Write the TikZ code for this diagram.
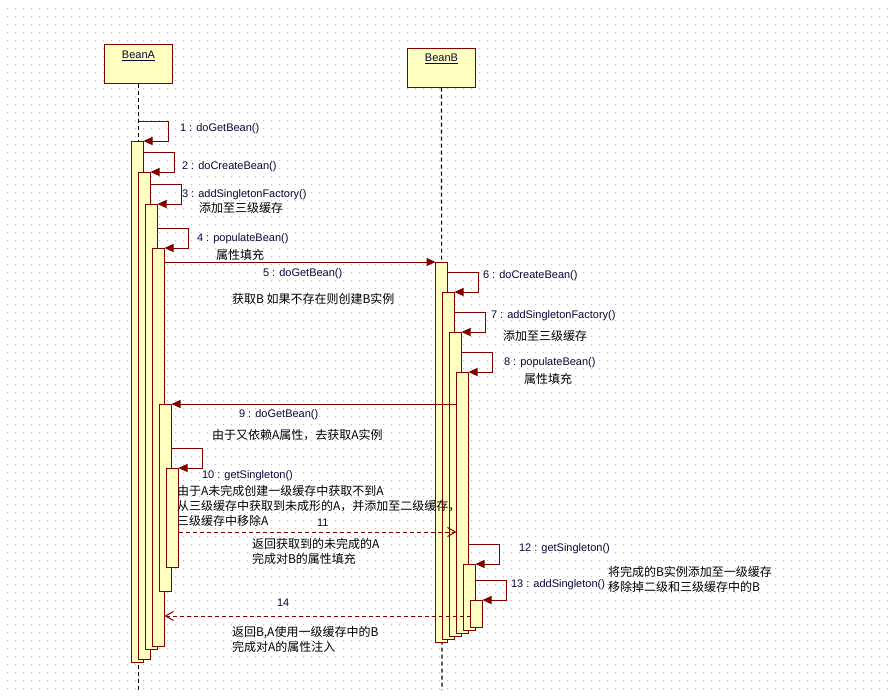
\documentclass[tikz,border=0pt]{standalone}
\usepackage{fontspec}
\setmainfont{Liberation Sans}
\newfontfamily\cjk{Noto Sans CJK SC}
\usetikzlibrary{arrows.meta}

\definecolor{umlred}{RGB}{128,0,0}
\definecolor{barfill}{RGB}{255,255,192}
\definecolor{labelblue}{RGB}{8,8,56}
\definecolor{griddot}{RGB}{188,188,188}

\begin{document}
\begin{tikzpicture}[x=1pt,y=-1pt,
  every node/.style={inner sep=0pt, outer sep=0pt},
  objbox/.style={draw=umlred, fill=barfill, line width=1.2pt,
    minimum width=68pt, minimum height=39pt, anchor=north west},
  objname/.style={text=labelblue, font=\fontsize{11}{13}\selectfont},
  actbar/.style={draw=umlred, fill=barfill, line width=1pt,
    minimum width=12pt, anchor=north west},
  lifeline/.style={draw=black, line width=1.2pt, dash pattern=on 4pt off 3pt},
  callmsg/.style={draw=umlred, line width=1pt,
    -{Triangle[length=9pt,width=8pt]}},
  retmsg/.style={draw=umlred, line width=1pt, dash pattern=on 4pt off 3pt,
    -{Straight Barb[length=8pt,width=9pt]}},
  mlabel/.style={anchor=west, text=labelblue, font=\fontsize{11}{13}\selectfont},
  note/.style={anchor=west, text=black, align=left,
    font=\cjk\fontsize{12}{15}\selectfont},
]
\useasboundingbox (0,0) rectangle (895,697);
\fill[white] (0,0) rectangle (895,697);

% dotted drawing grid, one path per row
\foreach \j in {0,...,85} {
  \fill[griddot] \foreach \i in {0,...,110} {(7+8*\i,8+8*\j) rectangle ++(1,1)};
}

% objects
\node[objbox] (boxA) at (104.5,44.5) {};
\node[objname] (nameA) at (138.5,56) {\underline{BeanA}};
\node[objbox] (boxB) at (407.5,48.5) {};
\node[objname] (nameB) at (441.5,59) {\underline{BeanB}};

% lifelines
\coordinate (endA) at (138.5,690);
\coordinate (endB) at (442,690);
\draw[lifeline] (boxA.south) -- (endA);
\draw[lifeline] (boxB.south) -- (endB);

% activations of BeanA
\node[actbar, minimum height=521pt] (a1) at (131.5,141) {};
\node[actbar, minimum height=487pt] (a2) at (138.5,172) {};
\node[actbar, minimum height=445pt] (a3) at (145.5,204) {};
\node[actbar, minimum height=398pt] (a4) at (152.5,248) {};
\node[actbar, minimum height=187pt] (a9) at (159.5,404) {};
\node[actbar, minimum height=99pt]  (a10) at (166.5,468) {};

% activations of BeanB
\node[actbar, minimum height=380pt] (b5) at (435.5,262) {};
\node[actbar, minimum height=347pt] (b6) at (442.5,292) {};
\node[actbar, minimum height=304pt] (b7) at (449.5,332) {};
\node[actbar, minimum height=261pt] (b8) at (456.5,372) {};
\node[actbar, minimum height=66pt]  (b12) at (463.5,564) {};
\node[actbar, minimum height=27pt]  (b13) at (470.5,600) {};

% self calls
\draw[callmsg] ([yshift=20pt]a1.north east -| boxA.south) -- ++(30,0) |- (a1.north east);
\draw[callmsg] ([yshift=20pt]a2.north east -| a1.east) -- ++(31,0) |- (a2.north east);
\draw[callmsg] ([yshift=20pt]a3.north east -| a2.east) -- ++(31,0) |- (a3.north east);
\draw[callmsg] ([yshift=20pt]a4.north east -| a3.east) -- ++(31,0) |- (a4.north east);
\draw[callmsg] ([yshift=20pt]b6.north east -| b5.east) -- ++(31,0) |- (b6.north east);
\draw[callmsg] ([yshift=20pt]b7.north east -| b6.east) -- ++(31,0) |- (b7.north east);
\draw[callmsg] ([yshift=20pt]b8.north east -| b7.east) -- ++(31,0) |- (b8.north east);
\draw[callmsg] ([yshift=20pt]a10.north east -| a9.east) -- ++(31,0) |- (a10.north east);
\draw[callmsg] ([yshift=20pt]b12.north east -| b8.east) -- ++(31,0) |- (b12.north east);
\draw[callmsg] ([yshift=20pt]b13.north east -| b12.east) -- ++(31,0) |- (b13.north east);

% calls between the beans
\draw[callmsg] (a4.east |- b5.north) -- (b5.north west);
\draw[callmsg] (b8.west |- a9.north) -- (a9.north east);

% returns
\draw[retmsg] ([yshift=-64pt]a10.north east) coordinate (r11) -- (b8.west |- r11);
\draw[retmsg] ([yshift=-16pt]b13.north west) coordinate (r14) -- (a4.east |- r14);

% message labels
\node[mlabel] (m1) at (180,129) {1 : doGetBean()};
\node[mlabel] (m2) at (182,167) {2 : doCreateBean()};
\node[mlabel] (m3) at (182,195) {3 : addSingletonFactory()};
\node[note]   (t3) at (199,208) {添加至三级缓存};
\node[mlabel] (m4) at (197,239) {4 : populateBean()};
\node[note]   (t4) at (216,255) {属性填充};
\node[mlabel] (m5) at (263,274) {5 : doGetBean()};
\node[note]   (t5) at (232,299) {获取B 如果不存在则创建B实例};
\node[mlabel] (m6) at (483,276) {6 : doCreateBean()};
\node[mlabel] (m7) at (491,316) {7 : addSingletonFactory()};
\node[note]   (t7) at (503,336) {添加至三级缓存};
\node[mlabel] (m8) at (504,363) {8 : populateBean()};
\node[note]   (t8) at (524,379) {属性填充};
\node[mlabel] (m9) at (239,415) {9 : doGetBean()};
\node[note]   (t9) at (212,435) {由于又依赖A属性，去获取A实例};
\node[mlabel] (m10) at (202,476) {10 : getSingleton()};
\node[note]   (t10) at (177,506) {由于A未完成创建一级缓存中获取不到A\\从三级缓存中获取到未成形的A，并添加至二级缓存，\\三级缓存中移除A};
\node[mlabel] (m11) at (317,523) {11};
\node[note]   (t11) at (252,551) {返回获取到的未完成的A\\完成对B的属性填充};
\node[mlabel] (m12) at (519,549) {12 : getSingleton()};
\node[mlabel] (m13) at (511,585) {13 : addSingleton()};
\node[note]   (t13) at (608,579.5) {将完成的B实例添加至一级缓存\\移除掉二级和三级缓存中的B};
\node[mlabel] (m14) at (277,603) {14};
\node[note]   (t14) at (232,639.5) {返回B,A使用一级缓存中的B\\完成对A的属性注入};
\end{tikzpicture}
\end{document}
